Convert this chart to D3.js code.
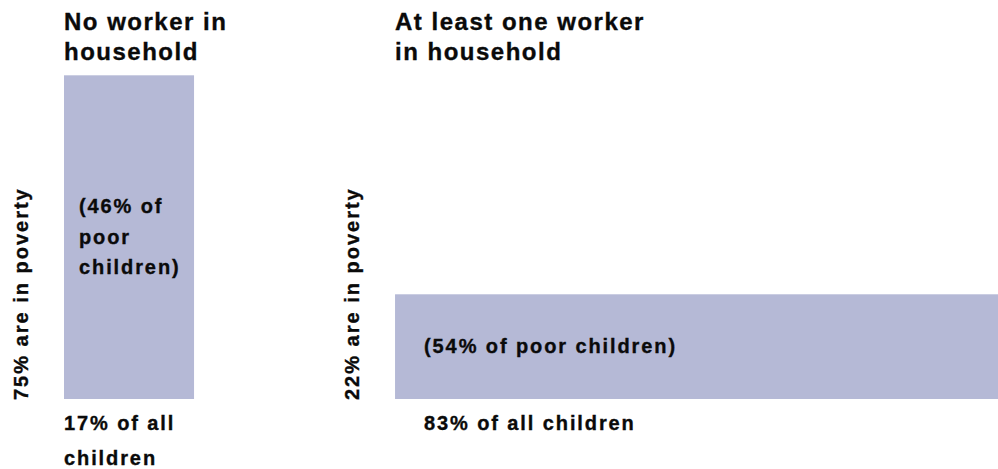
<!DOCTYPE html>
<html>
<head>
<meta charset="utf-8">
<script src="https://cdn.jsdelivr.net/npm/d3@7"></script>
<style>
  html, body { margin: 0; padding: 0; background: #ffffff; }
  svg { display: block; }
  text { font-family: "Liberation Sans", Arial, Helvetica, sans-serif; font-weight: bold; fill: #0a0a0a; stroke: #0a0a0a; stroke-width: 0.35px; }
</style>
</head>
<body>
<svg id="chart" width="998" height="469"></svg>
<script>
// Children by household work status
const groups = ["No worker in household", "At least one worker in household"];
const titleLines = [["No worker in", "household"], ["At least one worker", "in household"]];
const shareOfChildren = [17, 83];   // % of all children
const povertyRate = [75, 22];       // % of those children in poverty
const shareOfPoor = [46, 54];       // % of poor children
const insideLines = [["(46% of", "poor", "children)"], ["(54% of poor children)"]];
const bottomLines = [["17% of all", "children"], ["83% of all children"]];
const sideLabels = ["75% are in poverty", "22% are in poverty"];

const svg = d3.select("#chart");
const baseline = 399;
const gap = 201;
const left = 64;

// Bar width follows share of children, bar height follows the poverty rate
const widthScale = d3.scaleLinear().domain([0, 100]).range([8.2, 724.9]);
const heightScale = d3.scaleLinear().domain([0, 100]).range([13.8, 427]);

const rows = groups.map((g, i) => ({
  group: g,
  share: shareOfChildren[i],
  rate: povertyRate[i],
  poor: shareOfPoor[i],
  title: titleLines[i],
  inside: insideLines[i],
  bottom: bottomLines[i],
  side: sideLabels[i]
}));

let cursor = left;
rows.forEach(d => {
  d.x = cursor;
  d.w = widthScale(d.share);
  d.h = heightScale(d.rate);
  d.y = baseline - d.h;
  cursor += d.w + gap;
});

const g = svg.selectAll("g.group").data(rows).join("g").attr("class", "group");

g.append("rect")
  .attr("x", d => d.x)
  .attr("y", d => d.y)
  .attr("width", d => d.w)
  .attr("height", d => d.h)
  .attr("fill", "#b5b9d6");

// Titles
g.append("text")
  .attr("font-size", 24)
  .attr("letter-spacing", 1.5)
  .selectAll("tspan").data(d => d.title.map((t, k) => ({t, k, x: d.x})))
  .join("tspan")
  .attr("x", s => s.x)
  .attr("y", s => 30 + s.k * 30)
  .text(s => s.t);

// Labels inside bars, centred vertically
g.append("text")
  .attr("font-size", 20)
  .attr("letter-spacing", 1.9)
  .selectAll("tspan").data((d, i) => {
    const n = d.inside.length, lh = 30.5;
    const cy = d.y + d.h / 2;
    const pad = i === 0 ? 15 : 29;
    return d.inside.map((t, k) => ({t, x: d.x + pad, y: cy + 6.5 + (k - (n - 1) / 2) * lh}));
  })
  .join("tspan")
  .attr("x", s => s.x)
  .attr("y", s => s.y)
  .text(s => s.t);

// Labels under bars
g.append("text")
  .attr("font-size", 20)
  .attr("letter-spacing", 1.9)
  .selectAll("tspan").data((d, i) => {
    const pad = i === 0 ? 0 : 29;
    return d.bottom.map((t, k) => ({t, x: d.x + pad, y: 430 + k * 35}));
  })
  .join("tspan")
  .attr("x", s => s.x)
  .attr("y", s => s.y)
  .text(s => s.t);

// Rotated poverty-rate labels to the left of each bar
g.append("text")
  .attr("font-size", 20)
  .attr("letter-spacing", 2)
  .attr("transform", d => `translate(${d.x - 36},400) rotate(-90)`)
  .text(d => d.side);
</script>
</body>
</html>
